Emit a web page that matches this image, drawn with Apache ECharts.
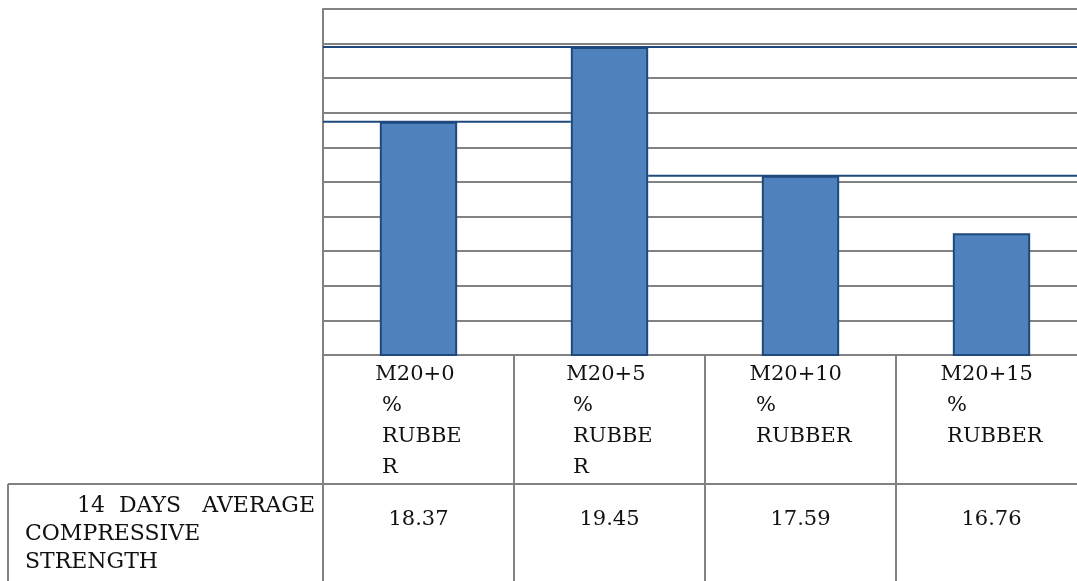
<!DOCTYPE html>
<html>
<head>
<meta charset="utf-8">
<script src="https://cdn.jsdelivr.net/npm/echarts@6/dist/echarts.min.js"></script>
<style>
  html, body { margin: 0; padding: 0; background: #ffffff; }
  #chart { width: 1077px; height: 581px; }
</style>
</head>
<body>
<div id="chart"></div>
<script>
// Mix designs (table column headers, wrapped as in the cells)
const categories = ['M20+0 % RUBBER', 'M20+5 % RUBBER', 'M20+10 % RUBBER', 'M20+15 % RUBBER'];
const categoryLines = [
  ['M20+0', ' %', ' RUBBE', ' R'],
  ['M20+5', ' %', ' RUBBE', ' R'],
  ['M20+10', ' %', ' RUBBER'],
  ['M20+15', ' %', ' RUBBER']
];
// Row header of the data table
const seriesNameLines = ['14  DAYS   AVERAGE', 'COMPRESSIVE', 'STRENGTH'];
// 14-day average compressive strength
const strength = [18.37, 19.45, 17.59, 16.76];
// Value axis range (labels are not drawn)
const yMin = 15, yMax = 20, yStep = 0.5;

const GREY = '#828282';
const BAR_FILL = '#4f81bd';
const BAR_EDGE = '#1f497d';
const FONT = 'DejaVu Serif';
const TEXT = '#111111';

const gridLeft = 323, gridTop = 9, gridWidth = 764, axisY = 355;
const tableBottom = 581, rowGap = 129;
const barFrac = 0.405;

const chart = echarts.init(document.getElementById('chart'), null, { renderer: 'canvas' });

// Horizontal level lines that run along bar tops (blue), on a 0..n value axis
const n = categories.length;
const tallest = strength.indexOf(Math.max(...strength));
const edgeL = i => i + 0.5 - barFrac / 2;
const edgeR = i => i + 0.5 + barFrac / 2;
const levels = [
  [[0, strength[tallest]], [n, strength[tallest]]],
  [[0, strength[0]], [edgeL(tallest), strength[0]]],
  [[edgeR(tallest), strength[2]], [n, strength[2]]]
];

const levelSeries = levels.map(pts => ({
  type: 'line',
  xAxisIndex: 2,
  data: pts,
  symbol: 'none',
  silent: true,
  z: 1,
  lineStyle: { color: BAR_EDGE, width: 2 }
}));

const headerFont = '22px "DejaVu Serif"';

const option = {
  animation: false,
  backgroundColor: '#ffffff',
  grid: {
    left: gridLeft, top: gridTop, width: gridWidth, height: axisY - gridTop,
    outerBoundsMode: 'none', containLabel: false
  },
  xAxis: [
    {
      type: 'category',
      data: categories,
      position: 'bottom',
      axisLine: { show: true, lineStyle: { color: GREY, width: 2 } },
      axisTick: { show: true, length: tableBottom - axisY, lineStyle: { color: GREY, width: 2 } },
      axisLabel: {
        interval: 0,
        margin: 4,
        formatter: (v, i) => '{c|' + categoryLines[i].join('\n') + '}',
        rich: {
          c: { align: 'left', fontFamily: FONT, fontSize: 21, lineHeight: 31, color: TEXT }
        }
      }
    },
    {
      type: 'category',
      data: categories,
      position: 'bottom',
      offset: rowGap,
      axisLine: { show: true, lineStyle: { color: GREY, width: 2 } },
      axisTick: { show: false },
      axisLabel: {
        interval: 0,
        margin: 25,
        formatter: (v, i) => strength[i].toFixed(2),
        fontFamily: FONT,
        fontSize: 21,
        color: TEXT
      }
    },
    { type: 'value', min: 0, max: n, show: false }
  ],
  yAxis: {
    type: 'value',
    min: yMin,
    max: yMax,
    interval: yStep,
    axisLine: { show: true, lineStyle: { color: GREY, width: 2 } },
    axisTick: { show: false },
    axisLabel: { show: false },
    splitLine: { show: true, lineStyle: { color: GREY, width: 2 } }
  },
  series: [
    {
      type: 'bar',
      name: seriesNameLines.join(' '),
      data: strength,
      barWidth: (barFrac * 100) + '%',
      z: 3,
      itemStyle: { color: BAR_FILL, borderColor: BAR_EDGE, borderWidth: 2 }
    },
    ...levelSeries
  ],
  graphic: [
    // row header cell border
    { type: 'line', shape: { x1: 8, y1: axisY + rowGap, x2: gridLeft, y2: axisY + rowGap },
      style: { stroke: GREY, lineWidth: 2 } },
    { type: 'line', shape: { x1: 8, y1: axisY + rowGap, x2: 8, y2: tableBottom },
      style: { stroke: GREY, lineWidth: 2 } },
    { type: 'text', x: 315, y: 495,
      style: { text: seriesNameLines[0], font: headerFont, fill: TEXT,
               textAlign: 'right', verticalAlign: 'top' } },
    { type: 'text', x: 25, y: 523,
      style: { text: seriesNameLines[1], font: headerFont, fill: TEXT,
               textAlign: 'left', verticalAlign: 'top' } },
    { type: 'text', x: 25, y: 551,
      style: { text: seriesNameLines[2], font: headerFont, fill: TEXT,
               textAlign: 'left', verticalAlign: 'top' } }
  ]
};

chart.setOption(option);
</script>
</body>
</html>
